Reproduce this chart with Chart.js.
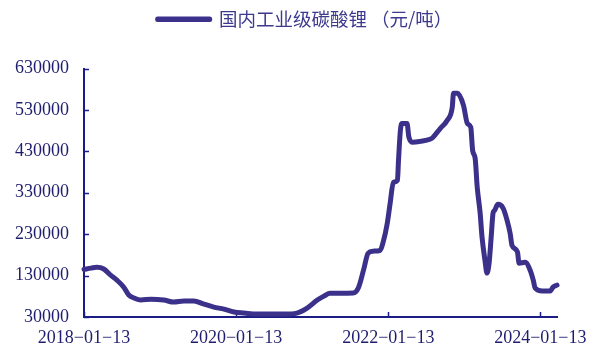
<!DOCTYPE html>
<html><head><meta charset="utf-8">
<script src="https://cdn.jsdelivr.net/npm/chart.js@4/dist/chart.umd.min.js"></script>
<style>html,body{margin:0;padding:0;background:#fff}</style>
</head><body>
<canvas id="c" width="600" height="347"></canvas>
<script>
const seriesLabel = '国内工业级碳酸锂 （元/吨）';
const tickDates = ['2018-01-13', '2020-01-13', '2022-01-13', '2024-01-13'];
const dates = [
  '2018-01-13','2018-02-16','2018-03-15','2018-04-18','2018-05-21','2018-06-20','2018-07-23','2018-08-16','2018-09-10','2018-10-13',
  '2018-12-01','2019-01-31','2019-03-20','2019-05-08','2019-06-25','2019-08-12','2019-09-28','2019-11-16','2020-01-03','2020-02-21',
  '2020-04-22','2020-06-28','2020-08-30','2020-10-31','2020-12-19','2021-02-06','2021-03-10','2021-04-08','2021-05-26','2021-07-28',
  '2021-08-22','2021-09-16','2021-10-08','2021-11-01','2021-12-05','2021-12-19','2022-01-08','2022-01-22','2022-02-06','2022-02-26',
  '2022-03-03','2022-03-12','2022-03-19','2022-04-13','2022-04-22','2022-05-11','2022-06-15','2022-08-01','2022-08-16','2022-09-19',
  '2022-10-23','2022-11-16','2022-11-22','2022-12-11','2023-01-09','2023-01-28','2023-02-13','2023-02-22','2023-03-06','2023-03-16',
  '2023-03-30','2023-04-08','2023-04-22','2023-05-02','2023-05-12','2023-05-22','2023-05-31','2023-06-08','2023-06-23','2023-07-18',
  '2023-08-06','2023-08-21','2023-08-30','2023-09-25','2023-10-03','2023-11-01','2023-11-25','2023-12-10','2023-12-19','2024-01-22',
  '2024-02-29','2024-03-14','2024-04-02'
];
const prices = [
  145000,148000,150000,146000,131000,119000,102000,83000,76000,71000,
  73000,71000,66000,68500,68500,61000,54000,49000,42000,39500,
  37000,37000,37000,39500,51500,71000,80500,87500,87500,88000,
  100000,143000,184000,189000,191000,210000,256000,305000,355000,360000,
  408000,480000,497000,497000,464000,452000,454000,459000,464000,485000,
  505000,536000,570000,570000,541000,497000,488000,432000,413000,343000,
  281000,223000,167000,136000,160000,223000,281000,288000,302000,293000,
  264000,232000,203000,187000,160000,162000,143000,119000,100000,92700,
  92700,102000,107000
];
const yMin = 30000, yMax = 630000, yStep = 100000;

const lineColor = '#3b318a';
const axisColor = '#1c1c86';
const tickTextColor = '#1f1e6e';
const legendTextColor = '#3d3a8e';

const origin = Date.parse(tickDates[0]);
const dayOf = s => (Date.parse(s) - origin) / 86400000;
const points = dates.map((d, i) => ({x: dayOf(d), y: prices[i]}));
const tickValues = tickDates.map(dayOf);

const insideTicks = {
  id: 'insideTicks',
  beforeDatasetsDraw(chart) {
    const {ctx, scales: {x, y}} = chart;
    ctx.save();
    ctx.strokeStyle = axisColor;
    ctx.lineWidth = 1.5;
    x.ticks.forEach(t => {
      const px = Math.round(x.getPixelForValue(t.value)) + 0.5;
      ctx.beginPath(); ctx.moveTo(px, x.top); ctx.lineTo(px, x.top - 5); ctx.stroke();
    });
    y.ticks.forEach(t => {
      const py = Math.round(y.getPixelForValue(t.value)) + 0.5;
      ctx.beginPath(); ctx.moveTo(y.right, py); ctx.lineTo(y.right + 5, py); ctx.stroke();
    });
    ctx.restore();
  }
};

const legendSpacer = {
  id: 'legendSpacer',
  afterInit(chart) {
    const legend = chart.legend;
    const origFit = legend.fit;
    legend.fit = function () { origFit.call(this); this.height += 30; };
  }
};

new Chart(document.getElementById('c'), {
  type: 'line',
  data: {
    datasets: [{
      label: seriesLabel,
      data: points,
      borderColor: lineColor,
      backgroundColor: lineColor,
      borderWidth: 5,
      pointRadius: 0,
      cubicInterpolationMode: 'monotone',
      borderJoinStyle: 'round',
      borderCapStyle: 'round',
      clip: false
    }]
  },
  options: {
    responsive: false,
    animation: false,
    devicePixelRatio: 1,
    layout: {padding: {left: 10, right: 0, top: 0, bottom: 0}},
    plugins: {
      legend: {
        display: true,
        position: 'top',
        labels: {
          boxWidth: 52,
          boxHeight: 0.5,
          padding: 10,
          color: legendTextColor,
          font: {family: '"Noto Sans CJK SC", "Noto Sans", sans-serif', size: 18.5}
        }
      },
      tooltip: {enabled: false}
    },
    scales: {
      x: {
        type: 'linear',
        min: 0,
        max: dayOf(dates[dates.length - 1]),
        afterBuildTicks: s => { s.ticks = tickValues.map(v => ({value: v})); },
        afterFit: s => { s.height = 30; s.paddingRight = 43; },
        grid: {display: false, drawTicks: false},
        border: {display: true, color: axisColor, width: 2},
        ticks: {
          padding: 10,
          maxRotation: 0,
          autoSkip: false,
          color: tickTextColor,
          font: {family: '"Liberation Serif", "Times New Roman", serif', size: 18},
          callback: v => { const i = tickValues.indexOf(v); return i >= 0 ? tickDates[i].replace(/-/g, '\u2212') : ''; }
        }
      },
      y: {
        type: 'linear',
        min: yMin,
        max: yMax,
        afterFit: s => { s.width = 74; },
        grid: {display: false, drawTicks: false},
        border: {display: true, color: axisColor, width: 2},
        ticks: {
          stepSize: yStep,
          padding: 15,
          color: tickTextColor,
          font: {family: '"Liberation Serif", "Times New Roman", serif', size: 18},
          callback: v => String(v)
        }
      }
    }
  },
  plugins: [insideTicks, legendSpacer]
});
</script>
</body></html>
